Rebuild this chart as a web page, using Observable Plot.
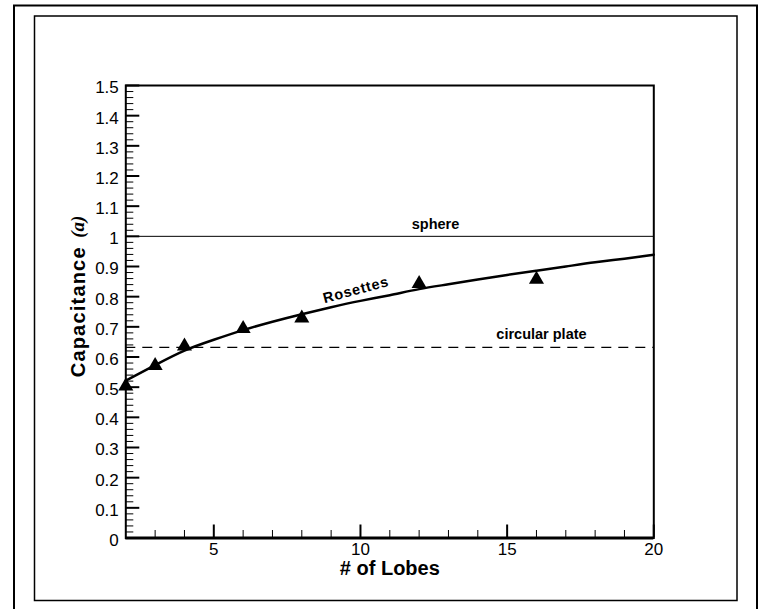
<!DOCTYPE html>
<html><head><meta charset="utf-8">
<script src="https://cdn.jsdelivr.net/npm/d3@7"></script>
<script src="https://cdn.jsdelivr.net/npm/@observablehq/plot@0.6"></script>
<style>
body{margin:0;background:#fff;}
#wrap{position:relative;width:763px;height:609px;overflow:hidden;}
</style>
</head><body><div id="wrap"></div>
<script>
// Measured rosette capacitances (triangles)
const lobes = [2, 3, 4, 6, 8, 12, 16];
const capacitance = [0.503, 0.571, 0.636, 0.694, 0.729, 0.843, 0.857];
// Fitted "Rosettes" curve
const curveLobes = [2, 3, 4, 5, 6, 7, 8, 9, 10, 11, 12, 13, 14, 15, 16, 17, 18, 19, 20];
const curveCap = [0.522, 0.573, 0.621, 0.657, 0.689, 0.717, 0.742, 0.765, 0.786, 0.805, 0.825, 0.841, 0.857, 0.872, 0.886, 0.900, 0.914, 0.926, 0.939];
// Reference values
const sphereValue = [1];
const plateValue = [0.632];
// Tick labels
const xTickLabels = [5, 10, 15, 20];
const yTickLabels = [0, 0.1, 0.2, 0.3, 0.4, 0.5, 0.6, 0.7, 0.8, 0.9, 1, 1.1, 1.2, 1.3, 1.4, 1.5];
const xMinor = [3, 4, 6, 7, 8, 9, 11, 12, 13, 14, 16, 17, 18, 19];
const yMinor = d3.range(0, 1.5, 0.02).map(v => +v.toFixed(2)).filter(v => Math.abs(v * 10 - Math.round(v * 10)) > 1e-6);

const curve = curveLobes.map((x, i) => ({x, y: curveCap[i]}));
const points = lobes.map((x, i) => ({x, y: capacitance[i]}));

const W = 763, H = 609, mL = 125.3, mR = 109.7, mT = 85, mB = 71.5;
const innerW = W - mL - mR, innerH = H - mT - mB;

const chart = Plot.plot({
  width: W, height: H,
  marginLeft: mL, marginRight: mR, marginTop: mT, marginBottom: mB,
  style: {fontFamily: "'Liberation Sans', Arial, sans-serif", fontSize: "17px", color: "#000", background: "#fff", overflow: "visible"},
  x: {domain: [2, 20], axis: null},
  y: {domain: [0, 1.5], axis: null},
  marks: [
    // reference lines
    Plot.ruleY(sphereValue, {stroke: "#000", strokeWidth: 1}),
    Plot.ruleY(plateValue, {stroke: "#000", strokeWidth: 1.2, strokeDasharray: "10,7"}),
    // rosette fit curve
    Plot.line(curve, {x: "x", y: "y", curve: "natural", stroke: "#000", strokeWidth: 2.5}),
    // measured points
    Plot.dot(points, {x: "x", y: "y", symbol: "triangle", r: 5.6, fill: "#000", stroke: "none"}),
    // ticks (inward)
    Plot.tickY(yTickLabels, {y: d => d, stroke: "#000", strokeWidth: 2, insetRight: innerW - 14}),
    Plot.tickY(yMinor, {y: d => d, stroke: "#000", strokeWidth: 1, insetRight: innerW - 8}),
    Plot.tickX(xTickLabels, {x: d => d, stroke: "#000", strokeWidth: 2, insetTop: innerH - 13}),
    Plot.tickX(xMinor, {x: d => d, stroke: "#000", strokeWidth: 1, insetTop: innerH - 7.5}),
    // axes labels
    Plot.axisY({ticks: yTickLabels, tickSize: 0, tickPadding: 7, tickFormat: d => String(d), label: null, fontSize: 17, dy: 2.5}),
    Plot.axisX({ticks: xTickLabels, tickSize: 0, tickPadding: 5, tickFormat: d => String(d), label: null, fontSize: 17}),
    Plot.frame({stroke: "#000", strokeWidth: 2}),
    Plot.ruleY([0], {stroke: "#000", strokeWidth: 3}),
    // annotations
    Plot.text(["sphere"], {x: 12.56, y: 1.04, text: d => d, fontSize: 14.5, fontWeight: "bold"}),
    Plot.text(["circular plate"], {x: 16.17, y: 0.676, text: d => d, fontSize: 14.5, fontWeight: "bold"}),
    Plot.text(["Rosettes"], {x: 9.85, y: 0.822, text: d => d, fontSize: 14.5, fontWeight: "bold", rotate: -15}),
    // axis titles
    Plot.text(["# of Lobes"], {frameAnchor: "bottom", dy: 31, textAnchor: "middle", lineAnchor: "middle", text: d => d, fontSize: 20, fontWeight: "bold"}),
    Plot.text(["Capacitance"], {frameAnchor: "left", dx: -47.7, dy: 0, textAnchor: "middle", lineAnchor: "middle", rotate: -90, text: d => d, fontSize: 20, fontWeight: "bold"}),
    Plot.text(["(a)"], {frameAnchor: "left", dx: -47.7, dy: -85, textAnchor: "middle", lineAnchor: "middle", rotate: -90, text: d => d, fontSize: 19, fontWeight: "bold", fontStyle: "italic", fontFamily: "'Liberation Serif', 'Times New Roman', serif"})
  ]
});

document.getElementById("wrap").appendChild(chart);
const svg = d3.select(chart);
svg.insert("rect", ":first-child").attr("x", 14).attr("y", 5.5).attr("width", 743).attr("height", 620)
  .attr("fill", "none").attr("stroke", "#000").attr("stroke-width", 2);
svg.insert("rect", ":first-child").attr("x", 34.5).attr("y", 16).attr("width", 702.5).attr("height", 584.5)
  .attr("fill", "none").attr("stroke", "#000").attr("stroke-width", 1.5);
svg.selectAll("text").attr("fill", "#000");
svg.selectAll("text").filter(function() { return this.textContent === "Capacitance"; }).style("letter-spacing", "1.2px");
svg.selectAll("text").filter(function() { return this.textContent === "Rosettes"; }).style("letter-spacing", "0.8px");
</script>
</body></html>
